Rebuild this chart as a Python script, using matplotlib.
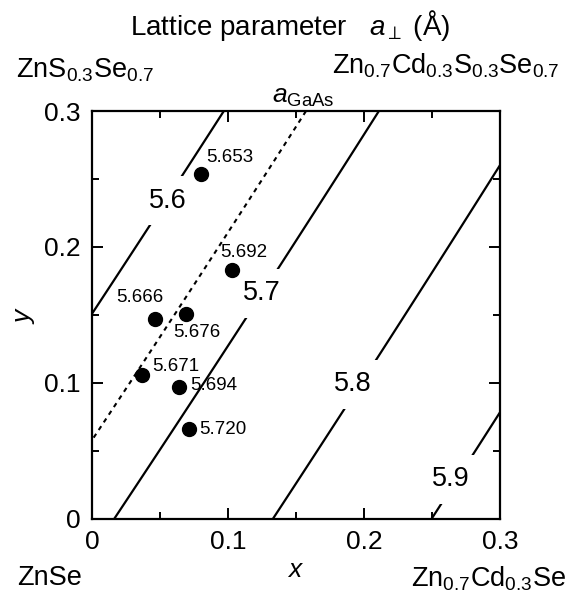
import numpy as np
import matplotlib
matplotlib.use("Agg")
import matplotlib.pyplot as plt

plt.rcParams['font.family'] = ['Liberation Sans', 'DejaVu Sans']
plt.rcParams['mathtext.fontset'] = 'custom'
plt.rcParams['mathtext.rm'] = 'Liberation Sans'
plt.rcParams['mathtext.it'] = 'Liberation Sans:italic'

# lattice parameter (A) at the four corners of the composition square
corner_x = [0.0, 0.3]
corner_y = [0.0, 0.3]
a_corner = [[5.686, 5.943],   # y = 0   : ZnSe, Zn0.7Cd0.3Se
            [5.515, 5.778]]   # y = 0.3 : ZnS0.3Se0.7, Zn0.7Cd0.3S0.3Se0.7
levels = [5.6, 5.7, 5.8, 5.9]
a_gaas = 5.653

# measured samples
sample_x = [0.080, 0.103, 0.046, 0.069, 0.037, 0.064, 0.071]
sample_y = [0.254, 0.183, 0.147, 0.151, 0.106, 0.097, 0.066]
sample_a = ['5.653', '5.692', '5.666', '5.676', '5.671', '5.694', '5.720']

# label layout (pixel offsets of the sample labels, contour label anchors)
label_off = [(5, 16), (-12, 18), (-38, 21), (-13, -19), (10, 8), (11, 1), (11, 0)]
level_pos = [(0.056, 0.234), (0.125, 0.166), (0.192, 0.099), (0.264, 0.029)]

# bilinear surface from the corner values
gx = np.linspace(corner_x[0], corner_x[1], 121)
gy = np.linspace(corner_y[0], corner_y[1], 121)
X, Y = np.meshgrid(gx, gy)
u = (X - corner_x[0]) / (corner_x[1] - corner_x[0])
v = (Y - corner_y[0]) / (corner_y[1] - corner_y[0])
A = np.array(a_corner)
Z = (A[0, 0] * (1 - u) * (1 - v) + A[0, 1] * u * (1 - v)
     + A[1, 0] * (1 - u) * v + A[1, 1] * u * v)

fig = plt.figure(figsize=(5.68, 5.97), dpi=100)
ax = fig.add_axes([0.162, 0.131, 0.718, 0.683])

ax.contour(X, Y, Z, levels=levels, colors='black', linewidths=1.6)
ax.contour(X, Y, Z, levels=[a_gaas], colors='black', linewidths=1.5,
           linestyles=[(0, (2.2, 2.2))])

for (lx, ly), lev in zip(level_pos, levels):
    ax.text(lx, ly, f'{lev:.1f}', fontsize=19.5, ha='center', va='center',
            bbox=dict(boxstyle='square,pad=0.42', fc='white', ec='none'), zorder=3)

ax.plot(sample_x, sample_y, 'o', color='black', markersize=10, zorder=4)
for sx, sy, s, off in zip(sample_x, sample_y, sample_a, label_off):
    ax.annotate(s, (sx, sy), xytext=off, textcoords='offset pixels',
                fontsize=13.5, ha='left', va='center', zorder=5)

ax.set_xlim(0, 0.3)
ax.set_ylim(0, 0.3)
ax.set_xticks([0, 0.1, 0.2, 0.3])
ax.set_yticks([0, 0.1, 0.2, 0.3])
ax.set_xticklabels(['0', '0.1', '0.2', '0.3'])
ax.set_yticklabels(['0', '0.1', '0.2', '0.3'])
ax.set_xticks([0.05, 0.15, 0.25], minor=True)
ax.set_yticks([0.05, 0.15, 0.25], minor=True)
ax.tick_params(which='both', direction='in', top=True, right=True, width=1.4)
ax.tick_params(which='major', length=8, labelsize=19, pad=8)
ax.tick_params(which='minor', length=5)
for sp in ax.spines.values():
    sp.set_linewidth(1.6)

ax.set_xlabel('$\\mathit{x}$', fontsize=19, labelpad=3)
ax.set_ylabel('$\\mathit{y}$', fontsize=19, labelpad=5)

fig.text(0.511, 0.957, 'Lattice parameter   $a_{\\perp}$ (Å)', fontsize=20,
         ha='center', va='center')
fig.text(0.028, 0.883, 'ZnS$_{0.3}$Se$_{0.7}$', fontsize=19.5, ha='left', va='center')
fig.text(0.985, 0.890, 'Zn$_{0.7}$Cd$_{0.3}$S$_{0.3}$Se$_{0.7}$', fontsize=19.5,
         ha='right', va='center')
fig.text(0.478, 0.838, '$\\mathit{a}_{\\mathrm{GaAs}}$', fontsize=19, ha='left', va='center')
fig.text(0.030, 0.031, 'ZnSe', fontsize=19.5, ha='left', va='center')
fig.text(0.996, 0.031, 'Zn$_{0.7}$Cd$_{0.3}$Se', fontsize=19.5, ha='right', va='center')

fig.savefig('out.png', dpi=100)
